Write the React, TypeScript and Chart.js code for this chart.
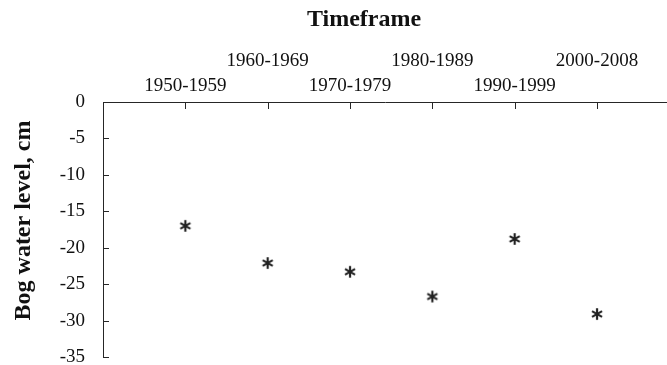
import { useEffect, useRef } from 'react';
import { Chart, registerables } from 'chart.js';

Chart.register(...registerables);

const categories = ['1950-1959', '1960-1969', '1970-1979', '1980-1989', '1990-1999', '2000-2008'];
const waterLevel = [-17.0, -22.1, -23.3, -26.7, -18.8, -29.1];
const xTitle = 'Timeframe';
const yTitle = 'Bog water level, cm';
const yMin = -35;
const yMax = 0;
const yStep = 5;

const FONT = '"Liberation Serif", "Times New Roman", serif';
const TEXT = '#111111';
const AXIS = '#262626';

function makeAsterisk(): HTMLCanvasElement {
  const size = 14;
  const c = document.createElement('canvas');
  c.width = size;
  c.height = size;
  const ctx = c.getContext('2d');
  if (ctx) {
    ctx.strokeStyle = '#222222';
    ctx.lineWidth = 2.2;
    const r = 5.8;
    const cx = size / 2;
    const cy = size / 2;
    for (let k = 0; k < 3; k++) {
      const a = Math.PI / 2 + (k * Math.PI) / 3;
      ctx.beginPath();
      ctx.moveTo(cx - r * Math.cos(a), cy - r * Math.sin(a));
      ctx.lineTo(cx + r * Math.cos(a), cy + r * Math.sin(a));
      ctx.stroke();
    }
  }
  return c;
}

const innerTicks = {
  id: 'innerTicks',
  afterDraw(chart: any) {
    const { ctx, chartArea, scales } = chart;
    ctx.save();
    ctx.strokeStyle = AXIS;
    ctx.lineWidth = 1;
    scales.x.ticks.forEach((t: any) => {
      const px = Math.round(scales.x.getPixelForValue(t.value)) + 0.5;
      ctx.beginPath();
      ctx.moveTo(px, chartArea.top);
      ctx.lineTo(px, chartArea.top + 7);
      ctx.stroke();
    });
    scales.y.ticks.forEach((t: any) => {
      const py = Math.round(scales.y.getPixelForValue(t.value)) + 0.5;
      ctx.beginPath();
      ctx.moveTo(chartArea.left, py);
      ctx.lineTo(chartArea.left + 6, py);
      ctx.stroke();
    });
    ctx.restore();
  },
};

export default function App() {
  const ref = useRef<HTMLCanvasElement>(null);

  useEffect(() => {
    if (!ref.current) return;
    const star = makeAsterisk();
    const chart = new Chart(ref.current, {
      type: 'scatter',
      data: {
        datasets: [
          {
            data: categories.map((_, i) => ({ x: i + 1, y: waterLevel[i] })),
            pointStyle: star as any,
            pointRadius: 7,
            showLine: false,
          },
        ],
      },
      options: {
        responsive: false,
        animation: false,
        layout: { autoPadding: false, padding: { left: 0, right: 0, top: 0, bottom: 8 } },
        plugins: { legend: { display: false }, tooltip: { enabled: false } },
        scales: {
          x: {
            type: 'linear',
            position: 'top',
            min: 0,
            max: 6.85,
            afterBuildTicks: (s: any) => {
              s.ticks = categories.map((_, i) => ({ value: i + 1 }));
            },
            afterFit: (s: any) => {
              s.height = 102;
              s.paddingLeft = 0;
              s.paddingRight = 0;
              s.paddingTop = 0;
              s.paddingBottom = 0;
            },
            grid: { display: true, drawOnChartArea: false, drawTicks: false },
            border: { display: true, color: AXIS, width: 1 },
            ticks: {
              autoSkip: false,
              maxRotation: 0,
              minRotation: 0,
              padding: 3,
              color: TEXT,
              font: { family: FONT, size: 19, lineHeight: 1.32 },
              callback: (v: any, i: number) => {
                const lbl = categories[Number(v) - 1];
                return i % 2 === 0 ? ['', lbl] : [lbl, ''];
              },
            },
            title: {
              display: true,
              text: xTitle + '       ',
              color: TEXT,
              font: { family: FONT, size: 24, weight: 'bold' },
              padding: { top: 5, bottom: 0 },
            },
          },
          y: {
            type: 'linear',
            min: yMin,
            max: yMax,
            afterFit: (s: any) => {
              s.width = 103;
              s.paddingLeft = 0;
              s.paddingRight = 0;
              s.paddingTop = 0;
              s.paddingBottom = 0;
            },
            grid: { display: true, drawOnChartArea: false, drawTicks: false },
            border: { display: true, color: AXIS, width: 1 },
            ticks: {
              stepSize: yStep,
              padding: 18,
              color: TEXT,
              font: { family: FONT, size: 19 },
            },
            title: {
              display: true,
              text: '   ' + yTitle,
              color: TEXT,
              font: { family: FONT, size: 24, weight: 'bold' },
              padding: { top: 9, bottom: 0 },
            },
          },
        },
      },
      plugins: [innerTicks],
    });
    return () => chart.destroy();
  }, []);

  return (
    <div style={{ position: 'fixed', left: 0, top: 0, width: 667, height: 365, background: '#fff' }}>
      <canvas ref={ref} width={667} height={365} style={{ display: 'block' }} />
    </div>
  );
}
